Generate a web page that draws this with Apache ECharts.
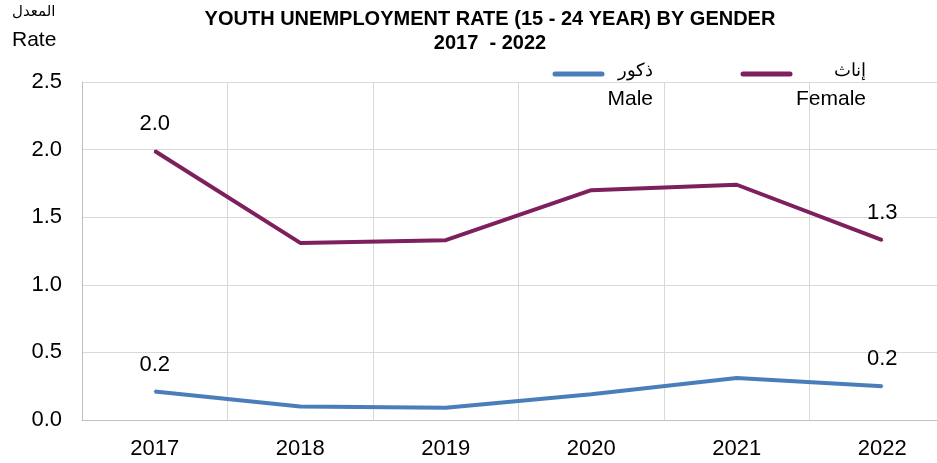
<!DOCTYPE html>
<html><head><meta charset="utf-8">
<script src="https://cdn.jsdelivr.net/npm/echarts@6/dist/echarts.min.js"></script>
<style>html,body{margin:0;padding:0;background:#fff;overflow:hidden;width:937px;height:463px}#c{width:955px;height:463px}</style>
</head><body><div id="c"></div>
<script>
const years = ['2017','2018','2019','2020','2021','2022'];
const male = [0.21, 0.10, 0.09, 0.19, 0.31, 0.25];
const female = [1.99, 1.31, 1.33, 1.70, 1.74, 1.33];
const yTicks = ['0.0','0.5','1.0','1.5','2.0','2.5'];
const maleLabels = ['0.2','','','','','0.2'];
const femaleLabels = ['2.0','','','','','1.3'];
const maleColor = '#4a7ebb', femaleColor = '#7e1f5e';
const F = 'Liberation Sans, Arial, sans-serif';
const chart = echarts.init(document.getElementById('c'));
function lbl(arr){return {show:true,position:'top',distance:15,fontSize:22,fontFamily:F,color:'#000',formatter:p=>arr[p.dataIndex]};}
chart.setOption({
  animation:false,
  grid:{left:82,top:82,bottom:43,right:0},
  title:{text:'YOUTH UNEMPLOYMENT RATE (15 - 24 YEAR) BY GENDER\n2017  - 2022',left:485,top:2,textAlign:'center',
    textStyle:{fontFamily:F,fontWeight:'bold',fontSize:20,lineHeight:24,color:'#000'}},
  xAxis:{type:'category',data:years,boundaryGap:true,
    axisLine:{lineStyle:{color:'#bfbfbf',width:1}},axisTick:{show:false},
    axisLabel:{fontSize:22,fontFamily:F,color:'#000',margin:18},
    splitLine:{show:true,lineStyle:{color:'#d9d9d9',width:1}}},
  yAxis:{type:'value',min:0,max:2.5,interval:0.5,
    axisLine:{show:true,lineStyle:{color:'#bfbfbf'}},axisTick:{show:false},
    axisLabel:{fontSize:22,fontFamily:F,color:'#000',margin:20,formatter:(v)=>yTicks[Math.round(v/0.5)]},
    splitLine:{lineStyle:{color:'#d9d9d9',width:1}}},
  series:[
    {name:'Male',type:'line',data:male,symbol:'circle',symbolSize:2,lineStyle:{color:maleColor,width:4},itemStyle:{color:maleColor},label:lbl(maleLabels)},
    {name:'Female',type:'line',data:female,symbol:'circle',symbolSize:2,lineStyle:{color:femaleColor,width:4},itemStyle:{color:femaleColor},label:lbl(femaleLabels)}
  ],
  graphic:[
    {type:'text',left:12,top:5,style:{text:'المعدل',fontSize:15,fontFamily:'DejaVu Sans, '+F,fill:'#000'}},
    {type:'text',left:12,top:30,style:{text:'Rate',fontSize:21,fontFamily:F,fill:'#000'}},
    {type:'line',shape:{x1:555,y1:74,x2:602,y2:74},style:{stroke:maleColor,lineWidth:5,lineCap:'round'}},
    {type:'text',x:653,y:62,style:{text:'ذكور',fontSize:18,fontFamily:F,fill:'#000',align:'right'}},
    {type:'text',x:653,y:89,style:{text:'Male',fontSize:21,fontFamily:F,fill:'#000',align:'right'}},
    {type:'line',shape:{x1:743,y1:74,x2:790,y2:74},style:{stroke:femaleColor,lineWidth:5,lineCap:'round'}},
    {type:'text',x:866,y:62,style:{text:'إناث',fontSize:18,fontFamily:F,fill:'#000',align:'right'}},
    {type:'text',x:866,y:89,style:{text:'Female',fontSize:21,fontFamily:F,fill:'#000',align:'right'}}
  ]
});
</script></body></html>
